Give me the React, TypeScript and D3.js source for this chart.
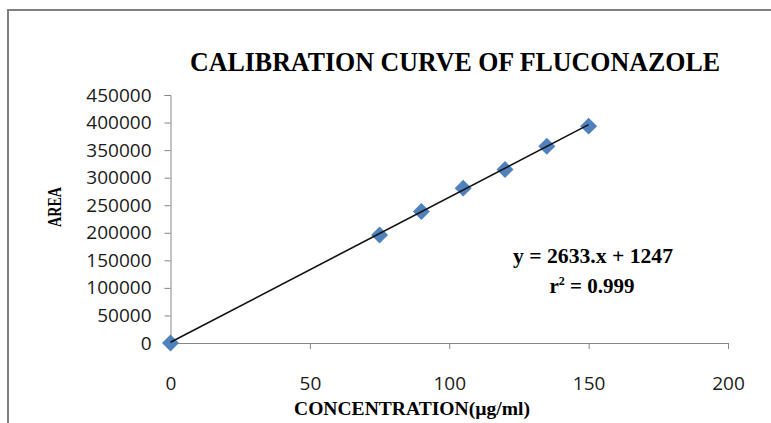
import { useEffect, useRef } from 'react';
import * as d3 from 'd3';

// concentration (µg/ml) vs peak area
const concentration = [0, 75, 90, 105, 120, 135, 150];
const area = [0, 196000, 238500, 281000, 315000, 357000, 393500];

const xTicks = [0, 50, 100, 150, 200];
const yTicks = [0, 50000, 100000, 150000, 200000, 250000, 300000, 350000, 400000, 450000];

// regression line reported on the chart
const slope = 2633;
const intercept = 1247;
const fitRange = [0, 150];

const titleText = 'CALIBRATION CURVE OF FLUCONAZOLE';
const xTitle = 'CONCENTRATION(µg/ml)';
const yTitle = 'AREA';
const eqText = 'y = 2633.x + 1247';

const W = 771;
const H = 423;

const App = () => {
  const svgRef = useRef<SVGSVGElement>(null);

  useEffect(() => {
    const svg = d3.select(svgRef.current);
    svg.selectAll('*').remove();

    const x = d3.scaleLinear().domain([0, 200]).range([170.5, 728]);
    const y = d3.scaleLinear().domain([0, 450000]).range([343, 95]);

    // outer frame (only top and left visible)
    svg
      .append('rect')
      .attr('x', 8)
      .attr('y', 10)
      .attr('width', 900)
      .attr('height', 600)
      .attr('fill', 'none')
      .attr('stroke', '#808080')
      .attr('stroke-width', 2);

    // title
    svg
      .append('text')
      .attr('x', 190)
      .attr('y', 71)
      .attr('font-family', '"Liberation Serif", "Times New Roman", serif')
      .attr('font-weight', 'bold')
      .attr('font-size', 27)
      .attr('textLength', 530)
      .attr('lengthAdjust', 'spacingAndGlyphs')
      .text(titleText);

    // y axis
    const yAxis = svg
      .append('g')
      .attr('transform', `translate(${x(0)},0)`)
      .call(d3.axisLeft(y).tickValues(yTicks).tickSize(6).tickPadding(13).tickFormat(d3.format('d')));
    yAxis.selectAll('path, line').attr('stroke', '#868686');
    yAxis
      .selectAll('text')
      .attr('font-family', '"Open Sans", sans-serif')
      .attr('font-size', 19)
      .attr('fill', '#1a1a1a');

    // x axis
    const xAxis = svg
      .append('g')
      .attr('transform', `translate(0,${y(0)})`)
      .call(d3.axisBottom(x).tickValues(xTicks).tickSize(6).tickPadding(28).tickFormat(d3.format('d')));
    xAxis.selectAll('path, line').attr('stroke', '#868686');
    xAxis
      .selectAll('text')
      .attr('font-family', '"Open Sans", sans-serif')
      .attr('font-size', 19)
      .attr('fill', '#1a1a1a');

    // axis titles
    svg
      .append('text')
      .attr('x', 294)
      .attr('y', 415)
      .attr('font-family', '"Liberation Serif", "Times New Roman", serif')
      .attr('font-weight', 'bold')
      .attr('font-size', 19)
      .attr('textLength', 236)
      .attr('lengthAdjust', 'spacingAndGlyphs')
      .text(xTitle);

    svg
      .append('text')
      .attr('transform', 'translate(61,227) rotate(-90)')
      .attr('font-family', '"Liberation Serif", "Times New Roman", serif')
      .attr('font-weight', 'bold')
      .attr('font-size', 18)
      .attr('textLength', 40)
      .attr('lengthAdjust', 'spacingAndGlyphs')
      .text(yTitle);

    // markers
    const diamond = d3.symbol().type(d3.symbolSquare).size(144);
    svg
      .append('g')
      .selectAll('path')
      .data(concentration.map((c, i) => ({ c, a: area[i] })))
      .enter()
      .append('path')
      .attr('d', diamond() as string)
      .attr('transform', (d) => `translate(${x(d.c)},${y(d.a)}) rotate(45)`)
      .attr('fill', '#4f81bd');

    // trendline
    const line = d3
      .line<number>()
      .x((d) => x(d))
      .y((d) => y(slope * d + intercept));
    svg
      .append('path')
      .attr('d', line(fitRange) as string)
      .attr('fill', 'none')
      .attr('stroke', '#111')
      .attr('stroke-width', 1.6);

    // equation
    svg
      .append('text')
      .attr('x', 593)
      .attr('y', 263)
      .attr('text-anchor', 'middle')
      .attr('font-family', '"Liberation Serif", "Times New Roman", serif')
      .attr('font-weight', 'bold')
      .attr('font-size', 20)
      .attr('textLength', 160)
      .attr('lengthAdjust', 'spacingAndGlyphs')
      .text(eqText);

    const r2 = svg
      .append('text')
      .attr('x', 592)
      .attr('y', 293)
      .attr('text-anchor', 'middle')
      .attr('font-family', '"Liberation Serif", "Times New Roman", serif')
      .attr('font-weight', 'bold')
      .attr('font-size', 21);
    r2.append('tspan').text('r');
    r2.append('tspan').attr('font-size', 12).attr('dy', -8).text('2');
    r2.append('tspan').attr('dy', 8).text(' = 0.999');
  }, []);

  return (
    <div style={{ position: 'absolute', left: 0, top: 0, background: '#fff' }}>
      <svg ref={svgRef} width={W} height={H} style={{ display: 'block' }} />
    </div>
  );
};

export default App;
